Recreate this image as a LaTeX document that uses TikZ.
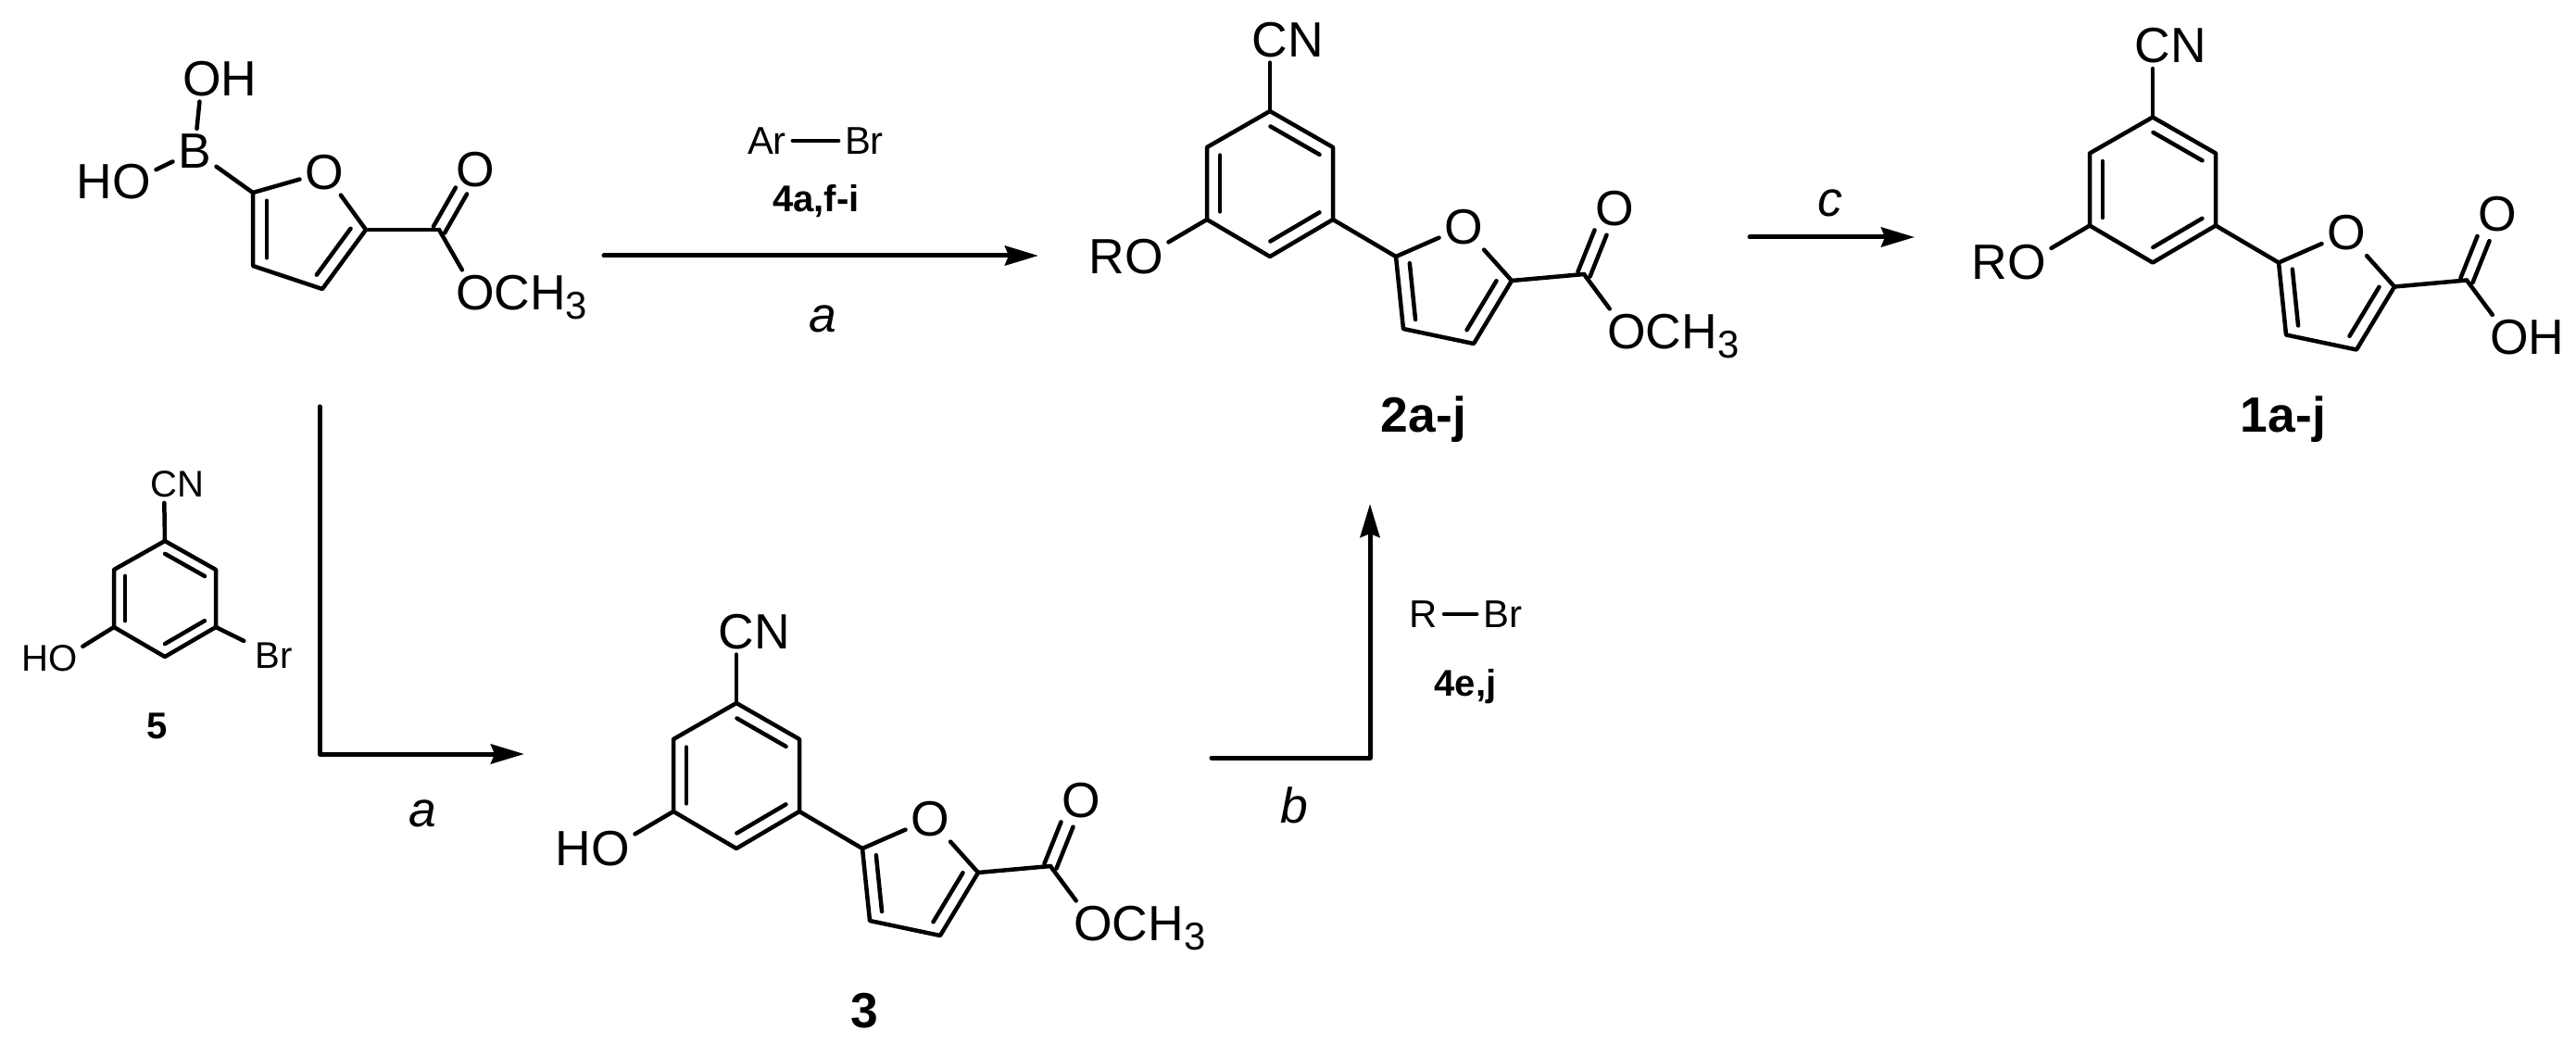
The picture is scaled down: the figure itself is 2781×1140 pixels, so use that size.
\documentclass[tikz,border=0pt]{standalone}
\usepackage{fontspec}
\setmainfont{Liberation Sans}
\usetikzlibrary{arrows.meta,calc}
\newcommand{\subthree}{\raisebox{-.19em}{\fontsize{11.9}{12}\selectfont 3}}
\newcommand{\dbl}[3][.14cm]{\draw[bond] ($(#2)!.11!(#3)!#1!-90:(#3)$) -- ($(#2)!.89!(#3)!#1!-90:(#3)$);}
\newcommand{\cobond}[2]{
	\draw[bond] ($(#1)!.07cm!90:(#2)$) -- ($(#2)!.07cm!-90:(#1)$);
	\draw[bond] ($(#1)!.07cm!-90:(#2)$) -- ($(#2)!.07cm!90:(#1)$);
}
\tikzset{
	bond/.style={line width=.045cm,line cap=round,line join=round},
	thinbond/.style={line width=.04cm,line cap=round},
	rxn/.style={line width=.05cm,line cap=round,line join=round,-{Stealth[length=.36cm,width=.21cm,inset=.04cm]}},
	atom/.style={font=\fontsize{15.2}{18}\selectfont,inner sep=.05cm},
	smallatom/.style={font=\fontsize{11.4}{14}\selectfont,inner sep=.05cm},
	reagent/.style={font=\fontsize{11.9}{14}\selectfont,inner sep=.06cm},
	cond/.style={font=\fontsize{15.2}{18}\selectfont\itshape,inner sep=0pt},
	cmpd/.style={font=\fontsize{15.2}{18}\selectfont\bfseries,inner sep=0pt,text height=.38cm,text depth=0pt},
	smallcmpd/.style={font=\fontsize{11.4}{14}\selectfont\bfseries,inner sep=0pt,text height=.28cm,text depth=0pt},
	pics/arylfuran/.style 2 args={
		code={
			\coordinate (top) at (0,0);
			\coordinate (ur) at (68,39);
			\coordinate (lr) at (68,117);
			\coordinate (bot) at (0,157);
			\coordinate (ll) at (-68,117);
			\coordinate (ul) at (-68,39);
			\coordinate (c2) at (136,157);
			\coordinate (c3) at (144,235);
			\coordinate (c4) at (220,251);
			\coordinate (c5) at (261,183);
			\coordinate (co) at (339,176);
			\coordinate (coend) at (357,131);
			\node[atom] (cn) at (0,-77) {C\smash{\rlap{N}}};
			\node[atom] (oleft) at (-136,157) {\smash{\llap{#1}}O};
			\node[atom] (oring) at (209,125) {O};
			\node[atom] (oket) at (372,105) {O};
			\node[atom] (oright) at (385,238) {O\smash{\rlap{#2}}};
			\draw[bond] (top) -- (ur) -- (lr) -- (bot) -- (ll) -- (ul) -- cycle;
			\dbl{top}{ur}
			\dbl{lr}{bot}
			\dbl{ll}{ul}
			\draw[bond] (top) -- (cn);
			\draw[bond] (ll) -- (oleft);
			\draw[bond] (lr) -- (c2);
			\draw[bond] (oring) -- (c2) -- (c3) -- (c4) -- (c5) -- (oring);
			\dbl{c3}{c2}
			\dbl{c5}{c4}
			\draw[bond] (c5) -- (co);
			\cobond{co}{coend}
			\draw[bond] (co) -- (oright);
		}
	}
}
\begin{document}
\begin{tikzpicture}[x=.01cm,y=-.01cm]
	\useasboundingbox (0,0) rectangle (2781,1140);

	\coordinate (sb2) at (273,208);
	\coordinate (sb3) at (273,287);
	\coordinate (sb4) at (348,312);
	\coordinate (sb5) at (395,248);
	\coordinate (sbco) at (474,248);
	\coordinate (sbcoend) at (498,206);
	\node[atom] (sbb) at (210,163) {B};
	\node[atom] (sboh) at (218,85) {O\smash{\rlap{H}}};
	\node[atom] (sbho) at (142,196) {\smash{\llap{H}}O};
	\node[atom] (sbo) at (350,186) {O};
	\node[atom] (sbket) at (513,183) {O};
	\node[atom] (sbme) at (513,316) {O\smash{\rlap{CH\subthree}}};
	\draw[bond] (sbb) -- (sboh);
	\draw[bond] (sbb) -- (sbho);
	\draw[bond] (sbb) -- (sb2);
	\draw[bond] (sbo) -- (sb2) -- (sb3) -- (sb4) -- (sb5) -- (sbo);
	\dbl[.15cm]{sb3}{sb2}
	\dbl{sb5}{sb4}
	\draw[bond] (sb5) -- (sbco);
	\cobond{sbco}{sbcoend}
	\draw[bond] (sbco) -- (sbme);

	\coordinate (ha) at (178,584);
	\coordinate (hb) at (233,615);
	\coordinate (hc) at (233,677);
	\coordinate (hd) at (178,709);
	\coordinate (he) at (123,677);
	\coordinate (hf) at (123,615);
	\node[smallatom] (hcn) at (177,523) {C\smash{\rlap{N}}};
	\node[smallatom] (hho) at (68,711) {\smash{\llap{H}}O};
	\node[smallatom,inner sep=.12cm] (hbr) at (296,708) {Br};
	\draw[bond] (ha) -- (hb) -- (hc) -- (hd) -- (he) -- (hf) -- cycle;
	\dbl[.12cm]{ha}{hb}
	\dbl[.12cm]{hc}{hd}
	\dbl[.12cm]{he}{hf}
	\draw[bond] (ha) -- (hcn);
	\draw[bond] (he) -- (hho);
	\draw[bond] (hc) -- (hbr);
	\node[smallcmpd] (lbfive) at (170,783) {5};

	\pic (two) at (1371,120) {arylfuran={R}{CH\subthree}};
	\pic (three) at (795,759) {arylfuran={H}{CH\subthree}};
	\pic (one) at (2324,126.5) {arylfuran={R}{H}};
	\node[cmpd] (lbtwo) at (1537,447) {2a-j};
	\node[cmpd] (lbthree) at (933.5,1090) {3};
	\node[cmpd] (lbone) at (2465,447) {1a-j};

	\coordinate (ra) at (652,276);
	\coordinate (rb) at (1121,276);
	\draw[rxn] (ra) -- (rb);
	\node[reagent] (ar) at (828,152) {Ar};
	\node[reagent] (arbr) at (933,152) {Br};
	\draw[thinbond] (ar) -- (arbr);
	\node[smallcmpd] (lbfour) at (881,214) {4a,f-i};
	\node[cond] (conda) at (888,344) {a};

	\coordinate (sa) at (345,439);
	\coordinate (sc) at (566,814);
	\draw[rxn] (sa) |- (sc);
	\node[cond] (condb) at (456,878) {a};

	\coordinate (ta) at (1308,818);
	\coordinate (tb) at (1479,544);
	\draw[rxn] (ta) -| (tb);
	\node[reagent] (rr) at (1537,663) {R};
	\node[reagent] (rbr) at (1622,663) {Br};
	\draw[thinbond] (rr) -- (rbr);
	\node[smallcmpd] (lbfourb) at (1582,737) {4e,j};
	\node[cond] (condc) at (1397,869) {b};

	\coordinate (ua) at (1889,256);
	\coordinate (ub) at (2067,256);
	\draw[rxn] (ua) -- (ub);
	\node[cond] (condd) at (1976,219) {c};
\end{tikzpicture}
\end{document}
